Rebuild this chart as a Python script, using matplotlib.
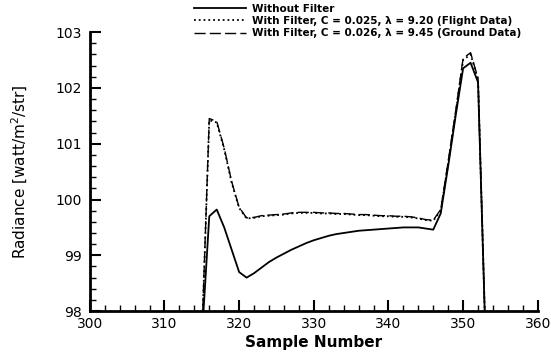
import matplotlib.pyplot as plt

plt.rcParams['font.family'] = ['DejaVu Sans']

samples = list(range(315, 354))
without_filter = [97.5, 99.7, 99.82, 99.5, 99.1, 98.7, 98.6, 98.68, 98.78, 98.88,
                  98.96, 99.03, 99.1, 99.16, 99.22, 99.27, 99.31, 99.35, 99.38, 99.4,
                  99.42, 99.44, 99.45, 99.46, 99.47, 99.48, 99.49, 99.5, 99.5, 99.5,
                  99.48, 99.46, 99.75, 100.6, 101.5, 102.35, 102.45, 102.1, 97.5]
flight = [97.5, 101.42, 101.38, 100.9, 100.3, 99.85, 99.66, 99.67, 99.7, 99.71,
          99.72, 99.73, 99.75, 99.76, 99.76, 99.76, 99.75, 99.75, 99.74, 99.74,
          99.73, 99.72, 99.72, 99.71, 99.7, 99.7, 99.69, 99.69, 99.68, 99.66,
          99.63, 99.62, 99.8, 100.65, 101.55, 102.5, 102.6, 102.15, 97.5]
ground = [97.5, 101.45, 101.4, 100.92, 100.32, 99.86, 99.67, 99.68, 99.71, 99.72,
          99.73, 99.74, 99.76, 99.77, 99.77, 99.77, 99.76, 99.76, 99.75, 99.75,
          99.74, 99.73, 99.73, 99.72, 99.71, 99.71, 99.7, 99.7, 99.69, 99.67,
          99.64, 99.63, 99.82, 100.68, 101.58, 102.53, 102.63, 102.17, 97.5]

fig = plt.figure(figsize=(5.51, 3.56), dpi=100)
ax = fig.add_axes([0.163, 0.126, 0.813, 0.784])

ax.plot(samples, without_filter, 'k-', lw=1.3, label='Without Filter')
ax.plot(samples, flight, 'k:', lw=1.3, label='With Filter, C = 0.025, \u03bb = 9.20 (Flight Data)')
ax.plot(samples, ground, 'k--', lw=1.0, dashes=(8, 3), label='With Filter, C = 0.026, \u03bb = 9.45 (Ground Data)')

ax.set_xlim(300, 360)
ax.set_ylim(98, 103)
ax.set_xticks(range(300, 361, 10))
ax.set_xticks(range(300, 361, 2), minor=True)
ax.set_yticks(range(98, 104))
ax.set_yticks([98 + 0.2 * i for i in range(26)], minor=True)

for s in ['top', 'right']:
    ax.spines[s].set_visible(False)
for s in ['left', 'bottom']:
    ax.spines[s].set_linewidth(2)

ax.tick_params(which='major', direction='in', length=8, width=1.5, labelsize=10)
ax.tick_params(axis='x', pad=4)
ax.tick_params(axis='y', pad=6)
ax.tick_params(which='minor', direction='in', length=4, width=1)

ax.set_xlabel('Sample Number', fontsize=11, fontweight='bold', labelpad=3)
ax.set_ylabel('Radiance [watt/m$^2$/str]', fontsize=11, labelpad=18)

fig.legend(loc='upper left', bbox_to_anchor=(0.335, 1.015), frameon=False,
           handlelength=5.0, handletextpad=0.6, labelspacing=0.2,
           prop={'weight': 'bold', 'size': 7.5})

fig.savefig('out.png', dpi=100)
